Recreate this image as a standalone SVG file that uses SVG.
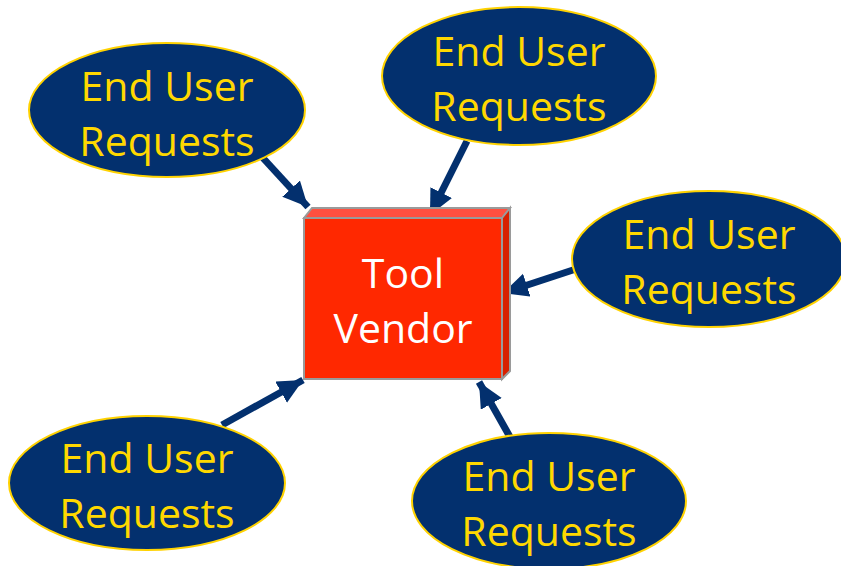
<svg xmlns="http://www.w3.org/2000/svg" width="841" height="566" viewBox="0 0 841 566">
  <style>
    .req ellipse { fill: #03306E; stroke: #FFD200; stroke-width: 2; }
    .req text { fill: #FFD800; font-family: "Open Sans", "Noto Sans", sans-serif; font-size: 41px; text-anchor: middle; }
    .vendor text { fill: #FFFFFF; font-family: "Open Sans", "Noto Sans", sans-serif; font-size: 41px; text-anchor: middle; }
    .link { stroke: #03306E; stroke-width: 7; fill: none; marker-end: url(#head); }
  </style>
  <defs>
    <marker id="head" markerUnits="userSpaceOnUse" markerWidth="28" markerHeight="28" refX="25" refY="12" orient="auto">
      <path d="M0,0 L25,12 L0,24 Z" fill="#03306E"/>
    </marker>
  </defs>
  <rect width="841" height="566" fill="#FFFFFF"/>

  <!-- connectors: every request points at the vendor box -->
  <g id="connectors">
    <line class="link" x1="263" y1="158" x2="308" y2="207"/>
    <line class="link" x1="467" y1="141" x2="430" y2="215"/>
    <line class="link" x1="576" y1="269" x2="503" y2="293"/>
    <line class="link" x1="222" y1="425" x2="303" y2="380"/>
    <line class="link" x1="510" y1="437" x2="479" y2="382"/>
  </g>

  <!-- central 3D box -->
  <g id="tool-vendor" class="vendor">
    <polygon points="304,218 312,208 510,208 502,218" fill="#FF5040" stroke="#9A9A9A" stroke-width="2"/>
    <polygon points="502,218 510,208 510,371 502,379" fill="#D82000" stroke="#9A9A9A" stroke-width="2"/>
    <rect x="304" y="218" width="198" height="161" fill="#FF2800" stroke="#9A9A9A" stroke-width="2"/>
    <text x="403" y="288">Tool</text>
    <text x="403" y="343">Vendor</text>
  </g>

  <g id="request-top-left" class="req">
    <ellipse cx="167" cy="110" rx="138" ry="67"/>
    <text x="167" y="101">End User</text>
    <text x="167" y="156">Requests</text>
  </g>

  <g id="request-top" class="req">
    <ellipse cx="519" cy="76" rx="137" ry="69"/>
    <text x="519" y="66">End User</text>
    <text x="519" y="121">Requests</text>
  </g>

  <g id="request-right" class="req">
    <ellipse cx="709" cy="259" rx="137" ry="68"/>
    <text x="709" y="249">End User</text>
    <text x="709" y="304">Requests</text>
  </g>

  <g id="request-bottom-left" class="req">
    <ellipse cx="147" cy="483" rx="138" ry="67"/>
    <text x="147" y="473">End User</text>
    <text x="147" y="528">Requests</text>
  </g>

  <g id="request-bottom" class="req">
    <ellipse cx="549" cy="501" rx="137" ry="68"/>
    <text x="549" y="491">End User</text>
    <text x="549" y="546">Requests</text>
  </g>
</svg>
